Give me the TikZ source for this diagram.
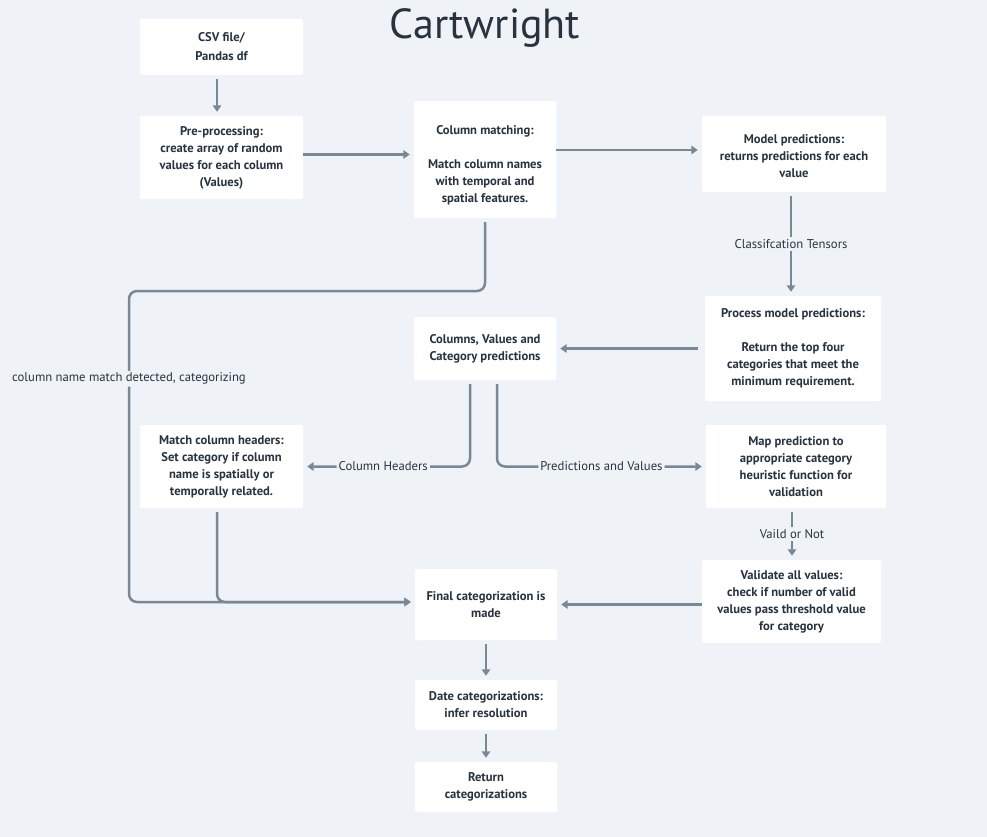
\documentclass[tikz,border=0pt]{standalone}
\usepackage{fontspec}
\setmainfont{PT Sans}
\usetikzlibrary{arrows.meta}
\definecolor{bgcol}{HTML}{EFF3F7}
\definecolor{linecol}{HTML}{7A8896}
\definecolor{inkcol}{HTML}{28333F}
\tikzset{
  stepbox/.style={fill=white, rounded corners=2pt, inner sep=0pt, align=center,
    text=inkcol, font=\bfseries\fontsize{12.6}{17}\selectfont},
  flow/.style={draw=linecol, line width=2.5pt, -{Triangle[length=6.5pt,width=8.5pt]},
    shorten >=4pt, shorten <=4pt},
  tag/.style={fill=bgcol, text=inkcol, font=\fontsize{12.7}{14}\selectfont, inner sep=2pt}
}
\begin{document}
\begin{tikzpicture}[x=1pt,y=-1pt]
	\fill[bgcol] (0,0) rectangle (987,837);
	\useasboundingbox (0,0) rectangle (987,837);

	\node[text=inkcol, font=\fontsize{42}{46}\selectfont] (title) at (485,28) {Cartwright};

	% boxes
	\node[stepbox, minimum width=163pt, minimum height=56pt] (csv) at (221.5,47) {CSV file/\\[2pt]Pandas df};
	\node[stepbox, minimum width=163pt, minimum height=83pt] (pre) at (221.5,157.5)
		{Pre-processing:\\create array of random\\values for each column\\(Values)};
	\node[stepbox, minimum width=142pt, minimum height=117pt] (cm) at (485,159.5)
		{\rule{0pt}{20pt}Column matching:\\[17pt]Match column names\\with temporal and\\spatial features.};
	\node[stepbox, minimum width=184pt, minimum height=76pt] (mp) at (794,154)
		{\rule{0pt}{14pt}Model predictions:\\returns predictions for each\\value};
	\node[stepbox, minimum width=176pt, minimum height=105pt] (pmp) at (793,348.5)
		{Process model predictions:\\[17pt]Return the top four\\categories that meet the\\minimum requirement.};
	\node[stepbox, minimum width=142pt, minimum height=63pt] (cv) at (485,348.5)
		{Columns, Values and\\Category predictions};
	\node[stepbox, minimum width=163pt, minimum height=83pt] (mh) at (221.5,466.5)
		{Match column headers:\\Set category if column\\name is spatially or\\temporally related.};
	\node[stepbox, minimum width=180pt, minimum height=83pt] (map) at (796,466.5)
		{Map prediction to\\appropriate category\\heuristic function for\\validation};
	\node[stepbox, minimum width=179pt, minimum height=83pt] (val) at (791.5,601.5)
		{Validate all values:\\check if number of valid\\values pass threshold value\\for category};
	\node[stepbox, minimum width=142pt, minimum height=71pt] (fc) at (486,604.5)
		{Final categorization is\\made};
	\node[stepbox, minimum width=142pt, minimum height=50pt] (dc) at (486,705)
		{Date categorizations:\\infer resolution};
	\node[stepbox, minimum width=142pt, minimum height=50pt] (rt) at (486,787)
		{Return\\categorizations};

	\coordinate (leftrail) at (129,291);

	% connectors
	\draw[flow] ([xshift=-4.5pt]csv.south) -- ([xshift=-4.5pt]pre.north);
	\draw[flow, shorten <=0pt] ([yshift=3pt]pre.east) -- ([yshift=3pt]pre.east -| cm.west);
	\draw[flow, shorten <=0pt] ([yshift=9.5pt]cm.east) -- ([yshift=9.5pt]cm.east -| mp.west);
	\draw[flow] ([xshift=-3pt]mp.south) -- node[tag]{Classifcation Tensors} ([xshift=-3pt]mp.south |- pmp.north);
	\draw[flow, shorten <=7pt] (pmp.west) -- (cv.east);
	\draw[flow, rounded corners=8pt] (cm.south) |- (leftrail)
		|- node[pos=0.141, tag]{column name match detected, categorizing} ([yshift=2.5pt]fc.west);
	\draw[flow, rounded corners=8pt] ([xshift=-15pt]cv.south) |- node[pos=0.76, tag]{Column Headers} (mh.east);
	\draw[flow, rounded corners=8pt] ([xshift=12pt]cv.south) |- node[pos=0.75, tag]{Predictions and Values} (map.west);
	\draw[flow] ([xshift=-4pt]map.south) -- node[tag]{Vaild or Not} ([xshift=-4pt]map.south |- val.north);
	\draw[flow, shorten <=0pt] (val.west |- fc.east) -- (fc.east);
	\draw[flow, rounded corners=8pt] ([xshift=-4.5pt]mh.south) |- ([yshift=2.5pt]fc.west);
	\draw[flow] (fc) -- (dc);
	\draw[flow] (dc) -- (rt);
\end{tikzpicture}
\end{document}
